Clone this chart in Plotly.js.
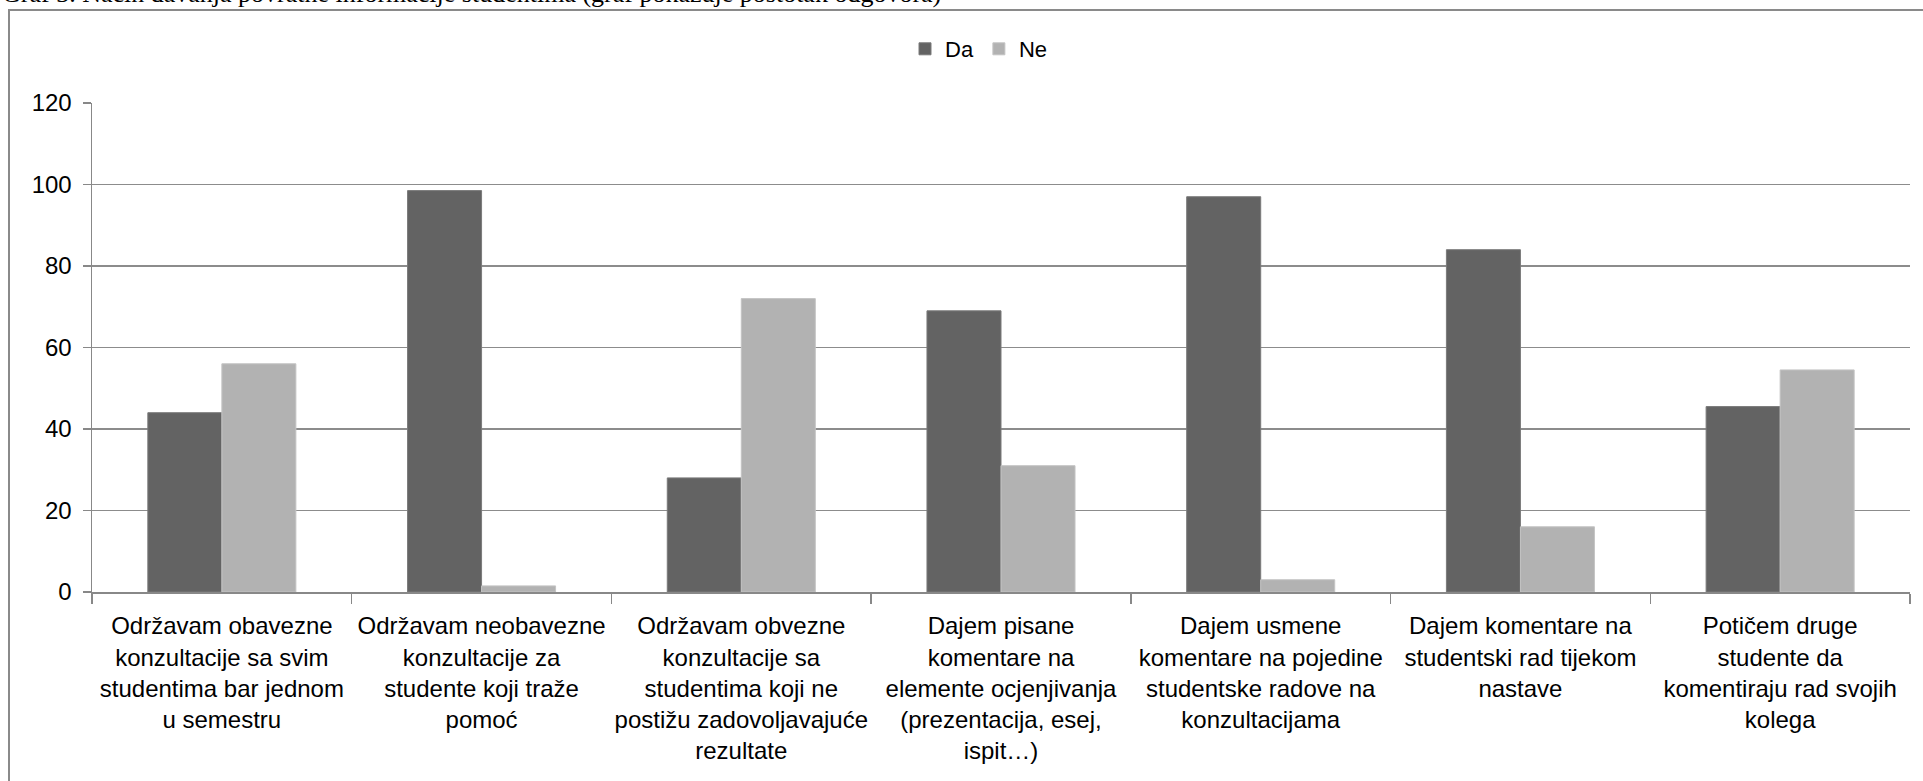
<!DOCTYPE html>
<html>
<head>
<meta charset="utf-8">
<script src="https://cdn.plot.ly/plotly-3.0.1.min.js"></script>
<style>html,body{margin:0;padding:0;background:#fff;}#chart{width:1923px;height:781px;}</style>
</head>
<body>
<div id="chart"></div>
<script>
const categories = [
  "Održavam obavezne<br>konzultacije sa svim<br>studentima bar jednom<br>u semestru",
  "Održavam neobavezne<br>konzultacije za<br>studente koji traže<br>pomoć",
  "Održavam obvezne<br>konzultacije sa<br>studentima koji ne<br>postižu zadovoljavajuće<br>rezultate",
  "Dajem pisane<br>komentare na<br>elemente ocjenjivanja<br>(prezentacija, esej,<br>ispit…)",
  "Dajem usmene<br>komentare na pojedine<br>studentske radove na<br>konzultacijama",
  "Dajem komentare na<br>studentski rad tijekom<br>nastave",
  "Potičem druge<br>studente da<br>komentiraju rad svojih<br>kolega"
];
const daValues = [44, 98.5, 28, 69, 97, 84, 45.5];
const neValues = [56, 1.5, 72, 31, 3, 16, 54.5];
const seriesNames = ["Da", "Ne"];
const yTicks = [0, 20, 40, 60, 80, 100, 120];
const titleText = "Graf 3. Način davanja povratne informacije studentima (graf pokazuje postotak odgovora)";

const L = 92, R = 13, T = 103, B = 189, W = 1923, H = 781;
const pw = W - L - R, ph = H - T - B;
const px2x = p => (p - L) / pw;
const py2y = p => (H - B - p) / ph;

const traces = [
  {type: 'bar', name: seriesNames[0], x: categories, y: daValues,
   marker: {color: '#636363', line: {color: '#7a7a7a', width: 1}}},
  {type: 'bar', name: seriesNames[1], x: categories, y: neValues,
   marker: {color: '#b2b2b2', line: {color: '#c4c4c4', width: 1}}}
];

const layout = {
  width: W, height: H,
  margin: {l: L, r: R, t: T, b: B, pad: 0},
  paper_bgcolor: '#fff', plot_bgcolor: '#fff',
  font: {family: 'Liberation Sans, Arial, sans-serif', size: 24, color: '#000'},
  barmode: 'group', bargap: 0.43, bargroupgap: 0,
  showlegend: true,
  legend: {orientation: 'h', x: px2x(979), xanchor: 'center', y: py2y(49), yanchor: 'middle',
           font: {size: 22, color: '#000'}, itemwidth: 30, traceorder: 'normal'},
  xaxis: {
    type: 'category', showgrid: false, showline: true, linecolor: '#888', linewidth: 1.5,
    ticks: 'outside', tickson: 'boundaries', ticklen: 10, tickcolor: '#888', tickwidth: 1.5,
    tickangle: 0, tickfont: {size: 24}, ticklabelstandoff: 12, fixedrange: true
  },
  yaxis: {
    range: [0, 120], tickvals: yTicks, ticktext: yTicks.map(String),
    showgrid: true, gridcolor: '#8c8c8c', gridwidth: 1.5,
    showline: true, linecolor: '#888', linewidth: 1.5,
    ticks: 'outside', ticklen: 8, tickcolor: '#888', tickwidth: 1.5,
    tickfont: {size: 24}, ticklabelstandoff: 6, zeroline: false, fixedrange: true
  },
  shapes: [
    {type: 'rect', xref: 'paper', yref: 'paper',
     x0: px2x(9), x1: px2x(1940), y0: py2y(800), y1: py2y(10),
     line: {color: '#8a8a8a', width: 2}, fillcolor: 'rgba(0,0,0,0)', layer: 'below'}
  ],
  annotations: [
    {text: titleText, xref: 'paper', yref: 'paper', x: px2x(0), xanchor: 'left',
     y: py2y(10), yanchor: 'bottom', showarrow: false,
     font: {family: 'Liberation Serif, Times New Roman, serif', size: 26, color: '#000'}}
  ]
};

Plotly.newPlot('chart', traces, layout, {displayModeBar: false, staticPlot: true});
</script>
</body>
</html>
